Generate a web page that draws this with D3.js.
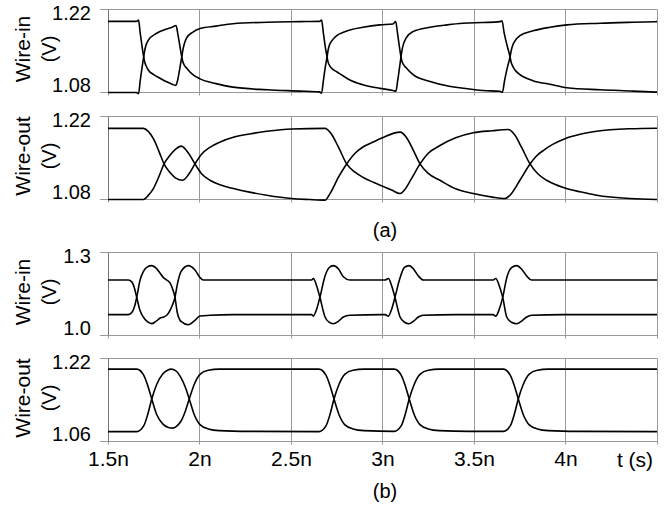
<!DOCTYPE html>
<html>
<head>
<meta charset="utf-8">
<script src="https://cdn.jsdelivr.net/npm/d3@7"></script>
<style>
  body { margin: 0; background: #fff; }
  svg { display: block; font-family: "Liberation Sans", Arial, sans-serif; }
</style>
</head>
<body>
<svg width="666" height="507"></svg>
<script>
// time in ns, voltage in V
const xTicks = [1.5, 2, 2.5, 3, 3.5, 4, 4.5];
const xTickLabels = ["1.5n", "2n", "2.5n", "3n", "3.5n", "4n"];

const panelNames = ["Wire-in", "Wire-out", "Wire-in", "Wire-out"];
const yDomains = [[1.08, 1.22], [1.08, 1.22], [1.0, 1.3], [1.06, 1.22]];
const yTickLabels = [["1.08", "1.22"], ["1.08", "1.22"], ["1.0", "1.3"], ["1.06", "1.22"]];

// (a) wire-in
const inA1 = [[1.50,1.200],[1.655,1.200],[1.667,1.202],[1.676,1.180],[1.686,1.158],[1.695,1.140],[1.700,1.132],[1.708,1.125],[1.720,1.118],[1.750,1.110],[1.784,1.104],[1.820,1.098],[1.850,1.094],[1.870,1.092],[1.880,1.100],[1.892,1.120],[1.903,1.140],[1.910,1.153],[1.918,1.163],[1.930,1.172],[1.964,1.182],[2.003,1.188],[2.090,1.192],[2.183,1.196],[2.369,1.1985],[2.549,1.1995],[2.655,1.200],[2.667,1.202],[2.677,1.180],[2.687,1.158],[2.697,1.140],[2.702,1.132],[2.710,1.126],[2.725,1.120],[2.750,1.115],[2.790,1.107],[2.822,1.101],[2.893,1.093],[2.986,1.087],[3.057,1.0834],[3.073,1.082],[3.083,1.100],[3.093,1.122],[3.101,1.140],[3.107,1.152],[3.115,1.162],[3.128,1.1715],[3.167,1.1827],[3.260,1.190],[3.352,1.194],[3.440,1.1968],[3.549,1.198],[3.642,1.1995],[3.653,1.201],[3.665,1.180],[3.682,1.158],[3.697,1.140],[3.703,1.131],[3.712,1.124],[3.724,1.118],[3.751,1.110],[3.822,1.100],[3.915,1.094],[4.008,1.088],[4.189,1.0846],[4.369,1.0824],[4.50,1.0806]];
const inA2 = [[1.50,1.080],[1.655,1.080],[1.667,1.078],[1.676,1.100],[1.686,1.122],[1.695,1.140],[1.700,1.150],[1.708,1.160],[1.720,1.168],[1.766,1.180],[1.820,1.187],[1.850,1.190],[1.872,1.193],[1.882,1.178],[1.893,1.158],[1.903,1.140],[1.909,1.132],[1.917,1.126],[1.930,1.121],[1.964,1.110],[2.003,1.103],[2.090,1.095],[2.183,1.089],[2.369,1.0846],[2.549,1.0824],[2.655,1.081],[2.667,1.079],[2.677,1.100],[2.687,1.122],[2.697,1.140],[2.702,1.150],[2.710,1.160],[2.725,1.168],[2.750,1.176],[2.790,1.182],[2.822,1.1855],[2.893,1.190],[2.986,1.194],[3.057,1.1956],[3.072,1.1995],[3.082,1.180],[3.092,1.158],[3.101,1.140],[3.107,1.132],[3.115,1.127],[3.128,1.122],[3.167,1.110],[3.260,1.0985],[3.352,1.0913],[3.440,1.0873],[3.549,1.0834],[3.642,1.082],[3.655,1.080],[3.667,1.100],[3.682,1.122],[3.697,1.140],[3.703,1.150],[3.712,1.160],[3.724,1.167],[3.751,1.176],[3.822,1.184],[3.915,1.190],[4.008,1.194],[4.189,1.1968],[4.369,1.1985],[4.50,1.1995]];

// (a) wire-out
const outA1 = [[1.50,1.200],[1.693,1.200],[1.720,1.195],[1.748,1.1825],[1.780,1.160],[1.806,1.140],[1.840,1.125],[1.870,1.116],[1.908,1.1124],[1.940,1.122],[1.975,1.140],[2.010,1.156],[2.057,1.168],[2.120,1.178],[2.185,1.185],[2.280,1.191],[2.367,1.195],[2.504,1.199],[2.686,1.200],[2.713,1.1936],[2.760,1.168],[2.804,1.140],[2.850,1.126],[2.895,1.117],[2.950,1.109],[2.996,1.103],[3.050,1.096],[3.096,1.090],[3.120,1.096],[3.160,1.116],[3.205,1.140],[3.250,1.158],[3.314,1.171],[3.400,1.184],[3.496,1.1926],[3.600,1.196],[3.687,1.198],[3.720,1.190],[3.760,1.168],[3.806,1.140],[3.850,1.123],[3.897,1.1124],[3.997,1.0995],[4.080,1.093],[4.170,1.0872],[4.352,1.0816],[4.50,1.080]];
const outA2 = [[1.50,1.080],[1.693,1.080],[1.720,1.087],[1.748,1.0985],[1.780,1.120],[1.806,1.140],[1.840,1.155],[1.870,1.165],[1.900,1.170],[1.940,1.158],[1.975,1.140],[2.010,1.124],[2.057,1.1124],[2.120,1.104],[2.185,1.0985],[2.280,1.092],[2.367,1.0872],[2.504,1.0816],[2.600,1.080],[2.686,1.079],[2.713,1.090],[2.760,1.118],[2.804,1.140],[2.850,1.158],[2.895,1.169],[2.950,1.177],[2.996,1.1836],[3.096,1.1936],[3.130,1.185],[3.170,1.162],[3.205,1.140],[3.250,1.124],[3.314,1.1124],[3.400,1.098],[3.496,1.090],[3.600,1.084],[3.669,1.0816],[3.697,1.0872],[3.750,1.112],[3.806,1.140],[3.840,1.153],[3.880,1.163],[3.930,1.173],[3.997,1.1826],[4.080,1.190],[4.170,1.195],[4.352,1.1993],[4.50,1.2003]];

// (b) wire-in
const inB1 = [[1.50,1.2005],[1.611,1.2005],[1.630,1.194],[1.645,1.170],[1.657,1.138],[1.675,1.090],[1.693,1.067],[1.715,1.050],[1.739,1.043],[1.760,1.050],[1.785,1.063],[1.803,1.067],[1.821,1.073],[1.839,1.091],[1.852,1.110],[1.866,1.138],[1.878,1.182],[1.899,1.231],[1.939,1.2526],[1.975,1.237],[2.003,1.209],[2.021,1.2005],[2.613,1.2005],[2.622,1.206],[2.640,1.180],[2.658,1.138],[2.686,1.067],[2.708,1.048],[2.731,1.0426],[2.760,1.052],[2.786,1.0667],[2.822,1.073],[2.996,1.0755],[3.014,1.0755],[3.032,1.070],[3.050,1.095],[3.068,1.138],[3.096,1.209],[3.120,1.246],[3.145,1.2526],[3.170,1.240],[3.196,1.215],[3.223,1.2005],[3.605,1.2005],[3.619,1.206],[3.638,1.180],[3.657,1.138],[3.679,1.067],[3.705,1.048],[3.733,1.0426],[3.760,1.052],[3.788,1.0667],[3.815,1.073],[3.989,1.0755],[4.50,1.0755]];
const inB2 = [[1.50,1.0755],[1.611,1.0755],[1.630,1.083],[1.645,1.105],[1.657,1.138],[1.675,1.200],[1.693,1.231],[1.715,1.248],[1.739,1.2526],[1.760,1.245],[1.785,1.225],[1.803,1.209],[1.821,1.2005],[1.839,1.190],[1.852,1.170],[1.866,1.138],[1.878,1.085],[1.899,1.051],[1.939,1.039],[1.975,1.0547],[2.003,1.0703],[2.057,1.073],[2.185,1.0755],[2.613,1.0755],[2.622,1.070],[2.640,1.095],[2.658,1.138],[2.686,1.215],[2.708,1.245],[2.731,1.2526],[2.760,1.240],[2.786,1.2125],[2.822,1.2005],[3.014,1.2005],[3.032,1.206],[3.050,1.180],[3.068,1.138],[3.096,1.0667],[3.120,1.048],[3.145,1.0426],[3.170,1.052],[3.196,1.0667],[3.223,1.073],[3.400,1.0755],[3.605,1.0755],[3.619,1.070],[3.638,1.095],[3.657,1.138],[3.679,1.209],[3.705,1.245],[3.733,1.2526],[3.760,1.240],[3.788,1.215],[3.815,1.2005],[4.50,1.2005]];

// (b) wire-out
const outB1 = [[1.50,1.1995],[1.657,1.1995],[1.695,1.188],[1.717,1.168],[1.739,1.142],[1.766,1.112],[1.799,1.094],[1.830,1.087],[1.855,1.0857],[1.880,1.091],[1.900,1.100],[1.922,1.118],[1.944,1.142],[1.971,1.170],[2.004,1.190],[2.048,1.1975],[2.108,1.1995],[2.653,1.1995],[2.691,1.188],[2.713,1.168],[2.735,1.142],[2.762,1.112],[2.795,1.092],[2.839,1.0843],[2.899,1.081],[3.064,1.0795],[3.102,1.090],[3.124,1.112],[3.146,1.142],[3.173,1.170],[3.206,1.190],[3.250,1.1975],[3.310,1.1995],[3.660,1.1995],[3.698,1.188],[3.720,1.168],[3.742,1.142],[3.769,1.112],[3.802,1.092],[3.846,1.0843],[3.906,1.081],[4.070,1.0795],[4.50,1.079]];
const outB2 = [[1.50,1.079],[1.657,1.079],[1.695,1.090],[1.717,1.112],[1.739,1.142],[1.766,1.170],[1.799,1.190],[1.825,1.1975],[1.847,1.1995],[1.875,1.195],[1.900,1.182],[1.922,1.165],[1.944,1.142],[1.971,1.112],[2.004,1.092],[2.048,1.0843],[2.108,1.081],[2.272,1.0795],[2.653,1.079],[2.691,1.090],[2.713,1.112],[2.735,1.142],[2.762,1.170],[2.795,1.190],[2.839,1.1975],[2.899,1.1995],[3.064,1.1995],[3.102,1.188],[3.124,1.168],[3.146,1.142],[3.173,1.112],[3.206,1.092],[3.250,1.0843],[3.310,1.081],[3.474,1.0795],[3.660,1.0795],[3.698,1.090],[3.720,1.112],[3.742,1.142],[3.769,1.170],[3.802,1.190],[3.846,1.1975],[3.906,1.1995],[4.50,1.1995]];

const panelSeries = [[inA1, inA2], [outA1, outA2], [inB1, inB2], [outB1, outB2]];

// layout
const left = 108, right = 657;
const panelTops = [9.5, 116.5, 252.5, 358.5];
const panelHeight = 83;

const svg = d3.select("svg");

const x = d3.scaleLinear()
    .domain([xTicks[0], xTicks[xTicks.length - 1]])
    .range([left, right]);

const crisp = v => Math.round(v - 0.5) + 0.5;

panelSeries.forEach((series, i) => {
    const top = panelTops[i];
    const bottom = top + panelHeight;
    const y = d3.scaleLinear().domain(yDomains[i]).range([bottom, top]);
    const g = svg.append("g");

    // vertical grid lines
    g.selectAll("line.grid")
        .data(xTicks)
        .join("line")
        .attr("class", "grid")
        .attr("x1", d => crisp(x(d)))
        .attr("x2", d => crisp(x(d)))
        .attr("y1", top)
        .attr("y2", bottom + 3)
        .attr("stroke", "#999")
        .attr("stroke-width", 1);

    // top / bottom borders
    g.selectAll("line.hb")
        .data([top, bottom])
        .join("line")
        .attr("class", "hb")
        .attr("x1", left - 8)
        .attr("x2", right)
        .attr("y1", d => d)
        .attr("y2", d => d)
        .attr("stroke", "#999")
        .attr("stroke-width", 1);

    // left axis line
    g.append("line")
        .attr("x1", crisp(left)).attr("x2", crisp(left))
        .attr("y1", top).attr("y2", bottom)
        .attr("stroke", "#777");

    // y labels
    const yAxis = d3.axisLeft(y)
        .tickValues(yDomains[i])
        .tickFormat((d, j) => yTickLabels[i][j])
        .tickSize(0)
        .tickPadding(17);
    const ya = g.append("g")
        .attr("transform", `translate(${left},0)`)
        .call(yAxis);
    ya.select(".domain").remove();
    ya.selectAll("text")
        .attr("y", (d, j) => j === 0 ? -7 : 4)
        .attr("fill", "#000")
        .style("font-size", "20px")
        .style("font-family", "'Liberation Sans', Arial, sans-serif");

    // rotated titles
    const cy = (top + bottom) / 2 - 2;
    g.append("text")
        .attr("transform", `translate(30,${cy}) rotate(-90)`)
        .attr("text-anchor", "middle")
        .style("font-size", "21px")
        .text(panelNames[i]);
    g.append("text")
        .attr("transform", `translate(56,${cy}) rotate(-90)`)
        .attr("text-anchor", "middle")
        .style("font-size", "20px")
        .text("(V)");

    // traces
    const line = d3.line()
        .x(d => x(d[0]))
        .y(d => y(d[1]))
        .curve(d3.curveMonotoneX);
    g.selectAll("path.trace")
        .data(series)
        .join("path")
        .attr("class", "trace")
        .attr("d", line)
        .attr("fill", "none")
        .attr("stroke", "#000")
        .attr("stroke-width", 1.6);
});

// x axis labels under the last panel
const lastBottom = panelTops[3] + panelHeight;
const xAxis = d3.axisBottom(x)
    .tickValues(xTicks.slice(0, xTickLabels.length))
    .tickFormat((d, j) => xTickLabels[j])
    .tickSize(0)
    .tickPadding(10);
const xa = svg.append("g")
    .attr("transform", `translate(0,${lastBottom})`)
    .call(xAxis);
xa.select(".domain").remove();
xa.selectAll("text")
    .attr("fill", "#000")
    .style("font-size", "21px")
    .style("font-family", "'Liberation Sans', Arial, sans-serif");

svg.append("text")
    .attr("x", 635).attr("y", 466.5)
    .attr("text-anchor", "middle")
    .style("font-size", "21px")
    .text("t (s)");

svg.append("text")
    .attr("x", 385).attr("y", 237)
    .attr("text-anchor", "middle")
    .style("font-size", "20px")
    .text("(a)");

svg.append("text")
    .attr("x", 385).attr("y", 498)
    .attr("text-anchor", "middle")
    .style("font-size", "20px")
    .text("(b)");
</script>
</body>
</html>
